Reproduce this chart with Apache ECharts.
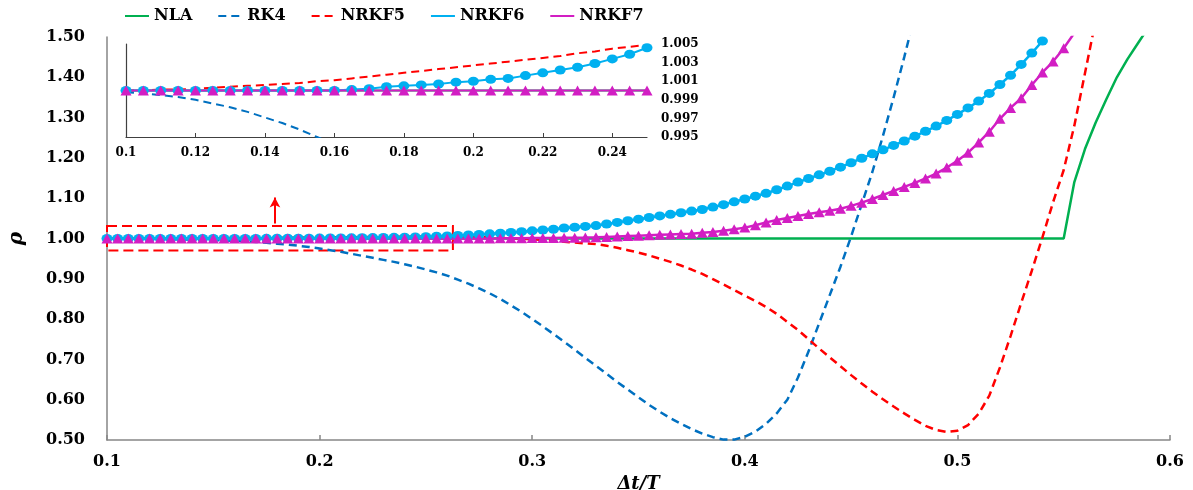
<!DOCTYPE html>
<html>
<head>
<meta charset="utf-8">
<script src="https://cdn.jsdelivr.net/npm/echarts/dist/echarts.min.js"></script>
<style>
  html, body { margin: 0; padding: 0; background: #ffffff; }
  #chart { width: 1193px; height: 490px; }
</style>
</head>
<body>
<div id="chart"></div>
<script>
// ---------------- DATA ----------------
const X = [
  0.100,0.105,0.110,0.115,0.120,0.125,0.130,0.135,0.140,0.145,
  0.150,0.155,0.160,0.165,0.170,0.175,0.180,0.185,0.190,0.195,
  0.200,0.205,0.210,0.215,0.220,0.225,0.230,0.235,0.240,0.245,
  0.250,0.255,0.260,0.265,0.270,0.275,0.280,0.285,0.290,0.295,
  0.300,0.305,0.310,0.315,0.320,0.325,0.330,0.335,0.340,0.345,
  0.350,0.355,0.360,0.365,0.370,0.375,0.380,0.385,0.390,0.395,
  0.400,0.405,0.410,0.415,0.420,0.425,0.430,0.435,0.440,0.445,
  0.450,0.455,0.460,0.465,0.470,0.475,0.480,0.485,0.490,0.495,
  0.500,0.505,0.510,0.515,0.520,0.525,0.530,0.535,0.540,0.545,
  0.550,0.555,0.560,0.565,0.570,0.575,0.580,0.585,0.590,0.595,
  0.600
];

const NLA = [
  1,1,1,1,1,1,1,1,1,1,
  1,1,1,1,1,1,1,1,1,1,
  1,1,1,1,1,1,1,1,1,1,
  1,1,1,1,1,1,1,1,1,1,
  1,1,1,1,1,1,1,1,1,1,
  1,1,1,1,1,1,1,1,1,1,
  1,1,1,1,1,1,1,1,1,1,
  1,1,1,1,1,1,1,1,1,1,
  1,1,1,1,1,1,1,1,1,1,
  1,1.140,1.222,1.287,1.345,1.400,1.445,1.485,1.525
];

const RK4 = [
  0.9998,0.9997,0.9995,0.9993,0.9990,0.9986,0.9982,0.9977,0.9971,0.9965,
  0.9958,0.9950,0.9942,0.9930,0.9915,0.9895,0.987,0.985,0.982,0.979,
  0.975,0.971,0.967,0.962,0.957,0.952,0.947,0.942,0.936,0.930,
  0.923,0.916,0.908,0.898,0.888,0.876,0.864,0.850,0.834,0.818,
  0.800,0.782,0.763,0.744,0.724,0.704,0.684,0.664,0.644,0.625,
  0.606,0.587,0.570,0.554,0.540,0.527,0.516,0.507,0.501,0.501,
  0.508,0.521,0.540,0.566,0.600,0.655,0.720,0.790,0.860,0.930,
  1.005,1.085,1.165,1.255,1.350,1.450,1.555
];

const NRKF5 = [
  1.0000,1.0000,1.0001,1.0001,1.0002,1.0003,1.0004,1.0005,1.0006,1.0007,
  1.0008,1.0010,1.0011,1.0013,1.0015,1.0017,1.0019,1.0021,1.0023,1.0025,
  1.0027,1.0029,1.0031,1.0033,1.0035,1.0037,1.0040,1.0042,1.0045,1.0047,
  1.0049,1.0050,1.0050,1.0048,1.0045,1.0040,1.0033,1.0024,1.0012,0.9998,
  0.998,0.996,0.994,0.992,0.990,0.988,0.986,0.982,0.977,0.971,
  0.965,0.958,0.950,0.942,0.933,0.923,0.912,0.899,0.886,0.872,
  0.858,0.845,0.830,0.813,0.793,0.773,0.750,0.727,0.705,0.683,
  0.661,0.640,0.620,0.601,0.583,0.566,0.550,0.535,0.525,0.520,
  0.523,0.537,0.565,0.610,0.680,0.758,0.840,0.920,1.003,1.090,
  1.170,1.280,1.410,1.540
];

const NRKF6 = [
  1.0000,1.0000,1.0000,1.0000,1.0000,1.0000,1.0000,1.0000,1.0000,1.0000,
  1.0000,1.0000,1.0000,1.0001,1.0002,1.0004,1.0005,1.0006,1.0007,1.0009,
  1.0010,1.0012,1.0013,1.0016,1.0019,1.0022,1.0025,1.0029,1.0034,1.0039,
  1.0046,1.0055,1.0065,1.0076,1.0088,1.0100,1.0115,1.0130,1.0150,1.0170,
  1.019,1.021,1.023,1.026,1.028,1.030,1.032,1.036,1.040,1.044,
  1.048,1.052,1.056,1.060,1.064,1.068,1.072,1.078,1.084,1.091,
  1.098,1.105,1.112,1.121,1.130,1.140,1.149,1.158,1.167,1.177,
  1.188,1.199,1.210,1.220,1.231,1.242,1.254,1.266,1.279,1.293,
  1.308,1.324,1.341,1.360,1.382,1.405,1.432,1.460,1.490
];

const NRKF7 = [
  1,1,1,1,1,1,1,1,1,1,
  1,1,1,1,1,1,1,1,1,1,
  1,1,1,1,1,1,1,1,1,1,
  1.0000,1.0000,1.0000,1.0000,1.0001,1.0002,1.0003,1.0004,1.0006,1.0008,
  1.0010,1.0012,1.0015,1.0018,1.0021,1.0025,1.003,1.004,1.005,1.006,
  1.007,1.008,1.009,1.010,1.011,1.012,1.014,1.016,1.019,1.023,
  1.027,1.033,1.040,1.046,1.051,1.056,1.061,1.065,1.069,1.074,
  1.081,1.089,1.098,1.108,1.118,1.128,1.138,1.149,1.161,1.176,
  1.193,1.213,1.238,1.265,1.297,1.324,1.348,1.381,1.412,1.439,
  1.472,1.510
];

const SERIES_NAMES = ['NLA', 'RK4', 'NRKF5', 'NRKF6', 'NRKF7'];
const X_TICKS = [0.1, 0.2, 0.3, 0.4, 0.5, 0.6];
const Y_TICKS = [0.5, 0.6, 0.7, 0.8, 0.9, 1.0, 1.1, 1.2, 1.3, 1.4, 1.5];
const INSET_X_TICKS = [0.1, 0.12, 0.14, 0.16, 0.18, 0.2, 0.22, 0.24];
const INSET_Y_TICKS = [0.995, 0.997, 0.999, 1.001, 1.003, 1.005];
const INSET_X_RANGE = [0.1, 0.25];

// annotation (data coordinates): dashed box around the zoomed region, arrow pointing up
const BOX = { x0: 0.1, x1: 0.2627, y0: 0.970, y1: 1.031 };
const ARROW = { x: 0.179, y0: 1.037, y1: 1.102 };

// ---------------- CHART ----------------
const FONT = 'DejaVu Serif';
const COLORS = { NLA: '#00B050', RK4: '#0070C0', NRKF5: '#FF0000', NRKF6: '#00B0F0', NRKF7: '#D21EC3' };

function pairs(Y) { return Y.map((y, i) => [X[i], y]); }
function insetPairs(Y) { return pairs(Y).filter(p => p[0] <= INSET_X_RANGE[1] + 0.0051); }

const DATA = { NLA, RK4, NRKF5, NRKF6, NRKF7 };

function makeSeries(name, main) {
  const lw = main ? 2.5 : 2;
  const s = {
    name,
    type: 'line',
    xAxisIndex: main ? 0 : 1,
    yAxisIndex: main ? 0 : 1,
    data: main ? pairs(DATA[name]) : insetPairs(DATA[name]),
    clip: true,
    color: COLORS[name],
    lineStyle: { color: COLORS[name], width: lw, type: 'solid' },
    symbol: 'none',
    silent: true,
    z: 2
  };
  if (name === 'RK4' || name === 'NRKF5') {
    s.lineStyle.type = [8, 5];
  }
  if (name === 'NRKF6') {
    s.symbol = 'circle';
    s.symbolSize = [11, 9];
    s.itemStyle = { color: COLORS[name] };
  }
  if (name === 'NRKF7') {
    s.symbol = 'triangle';
    s.symbolSize = [11, 10];
    s.itemStyle = { color: COLORS[name] };
  }
  if (main && name === 'NLA') {
    s.markArea = {
      silent: true,
      itemStyle: { color: 'rgba(0,0,0,0)', borderColor: '#FF0000', borderWidth: 2, borderType: [10, 5] },
      data: [[{ coord: [BOX.x0, BOX.y1] }, { coord: [BOX.x1, BOX.y0] }]]
    };
    s.markLine = {
      silent: true,
      symbol: ['none', 'arrow'],
      symbolSize: [8, 10],
      lineStyle: { color: '#FF0000', width: 2, type: 'solid' },
      label: { show: false },
      data: [[{ coord: [ARROW.x, ARROW.y0] }, { coord: [ARROW.x, ARROW.y1] }]]
    };
  }
  return s;
}

const series = [];
SERIES_NAMES.forEach(n => series.push(makeSeries(n, true)));
SERIES_NAMES.forEach(n => series.push(makeSeries(n, false)));

const labelStyle = (size) => ({ fontFamily: FONT, fontWeight: 'bold', fontSize: size, color: '#000' });
const trim = (v) => String(parseFloat(v.toFixed(3)));

const option = {
  backgroundColor: '#ffffff',
  animation: false,
  legend: {
    data: SERIES_NAMES,
    left: 124,
    top: 8,
    itemWidth: 24,
    itemHeight: 14,
    itemGap: 25,
    padding: 0,
    textStyle: labelStyle(16),
    itemStyle: { opacity: 0 }
  },
  grid: [
    { left: 107, right: 23, top: 37, bottom: 50, outerBoundsMode: 'none', containLabel: false },
    { left: 126, top: 44, width: 521, height: 93, outerBoundsMode: 'none', containLabel: false }
  ],
  xAxis: [
    {
      type: 'value', gridIndex: 0, min: 0.1, max: 0.6, interval: 0.1,
      axisLine: { show: true, lineStyle: { color: '#868686', width: 1.5 } },
      axisTick: { show: true, inside: true, length: 5, customValues: X_TICKS, lineStyle: { color: '#868686', width: 1.5 } },
      axisLabel: Object.assign(labelStyle(16), { margin: 14, customValues: X_TICKS, formatter: v => trim(v) }),
      splitLine: { show: false },
      name: 'Δt/T', nameLocation: 'middle', nameGap: 31,
      nameTextStyle: { fontFamily: FONT, fontWeight: 'bold', fontStyle: 'italic', fontSize: 18, color: '#000' }
    },
    {
      type: 'value', gridIndex: 1, min: INSET_X_RANGE[0], max: INSET_X_RANGE[1],
      axisLine: { show: true, lineStyle: { color: '#404040', width: 1.2 } },
      axisTick: { show: true, inside: true, length: 4, customValues: INSET_X_TICKS, lineStyle: { color: '#404040', width: 1 } },
      axisLabel: Object.assign(labelStyle(12), { margin: 10, customValues: INSET_X_TICKS, formatter: v => trim(v) }),
      splitLine: { show: false }
    }
  ],
  yAxis: [
    {
      type: 'value', gridIndex: 0, min: 0.5, max: 1.5, interval: 0.1,
      axisLine: { show: true, lineStyle: { color: '#868686', width: 1.5 } },
      axisTick: { show: false },
      axisLabel: Object.assign(labelStyle(16), { margin: 22, customValues: Y_TICKS, formatter: v => v.toFixed(2) }),
      splitLine: { show: false },
      name: 'ρ', nameLocation: 'middle', nameGap: 80, nameRotate: 90,
      nameTextStyle: { fontFamily: FONT, fontWeight: 'bold', fontStyle: 'italic', fontSize: 20, color: '#000' }
    },
    {
      type: 'value', gridIndex: 1, min: INSET_Y_TICKS[0], max: INSET_Y_TICKS[INSET_Y_TICKS.length - 1],
      axisLine: { show: true, lineStyle: { color: '#404040', width: 1.2 } },
      axisTick: { show: false },
      axisLabel: { show: false },
      splitLine: { show: false }
    },
    {
      type: 'value', gridIndex: 1, position: 'right',
      min: INSET_Y_TICKS[0], max: INSET_Y_TICKS[INSET_Y_TICKS.length - 1],
      axisLine: { show: false },
      axisTick: { show: false },
      axisLabel: Object.assign(labelStyle(12), { margin: 14, customValues: INSET_Y_TICKS, formatter: v => v.toFixed(3) }),
      splitLine: { show: false }
    }
  ],
  series
};

const chart = echarts.init(document.getElementById('chart'), null, { renderer: 'canvas' });
chart.setOption(option);
</script>
</body>
</html>
